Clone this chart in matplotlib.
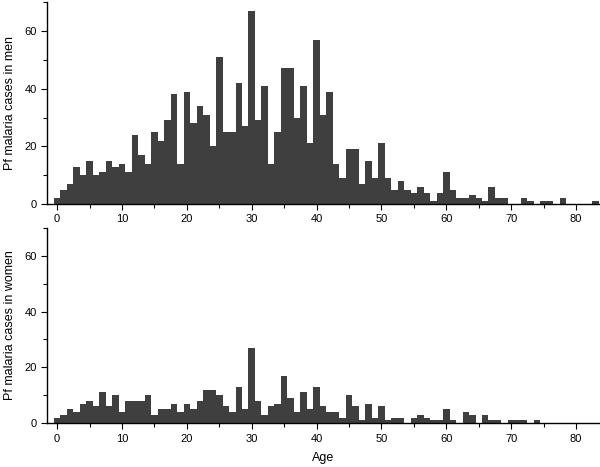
import matplotlib
matplotlib.use("Agg")
import matplotlib.pyplot as plt
from matplotlib.ticker import MultipleLocator
import numpy as np

plt.rcParams["font.family"] = ["Liberation Sans", "DejaVu Sans"]

ages = np.arange(0, 84)

men_cases = [
    2, 5, 7, 13, 10, 15, 10, 11, 15, 13,
    14, 11, 24, 17, 14, 25, 22, 29, 38, 14,
    39, 28, 34, 31, 20, 51, 25, 25, 42, 27,
    67, 29, 41, 14, 25, 47, 47, 30, 41, 21,
    57, 31, 39, 14, 9, 19, 19, 7, 15, 9,
    21, 9, 5, 8, 5, 4, 6, 4, 1, 4,
    11, 5, 2, 2, 3, 2, 1, 6, 2, 2,
    0, 0, 2, 1, 0, 1, 1, 0, 2, 0,
    0, 0, 0, 1,
]

women_cases = [
    2, 3, 5, 4, 7, 8, 6, 11, 6, 10,
    4, 8, 8, 8, 10, 3, 5, 5, 7, 4,
    7, 5, 8, 12, 12, 10, 6, 4, 13, 5,
    27, 8, 3, 6, 7, 17, 9, 4, 11, 5,
    13, 6, 4, 4, 2, 10, 6, 1, 7, 2,
    6, 1, 2, 2, 0, 2, 3, 2, 1, 1,
    5, 1, 0, 4, 3, 0, 3, 1, 1, 0,
    1, 1, 1, 0, 1, 0, 0, 0, 0, 0,
    0, 0, 0, 0,
]

panels = [
    (men_cases, "Pf malaria cases in men", [0.079, 0.563, 0.92, 0.4325]),
    (women_cases, "Pf malaria cases in women", [0.079, 0.094, 0.92, 0.418]),
]

BAR_COLOR = "#3f3f3f"

fig = plt.figure(figsize=(6.0, 4.67), dpi=100)

for values, label, rect in panels:
    ax = fig.add_axes(rect)
    ax.bar(ages, values, width=1.0, color=BAR_COLOR, edgecolor="none", align="center")
    ax.set_xlim(-1.5, 83.6)
    ax.set_ylim(0, 70)
    ax.xaxis.set_major_locator(MultipleLocator(10))
    ax.xaxis.set_minor_locator(MultipleLocator(5))
    ax.yaxis.set_major_locator(MultipleLocator(20))
    ax.yaxis.set_minor_locator(MultipleLocator(10))
    ax.tick_params(which="both", direction="out", labelsize=8, width=0.8)
    ax.tick_params(which="major", length=4)
    ax.tick_params(which="minor", length=3)
    for side in ("top", "right"):
        ax.spines[side].set_visible(False)
    ax.spines["left"].set_linewidth(1.0)
    ax.spines["bottom"].set_linewidth(1.0)
    ax.set_ylabel(label, fontsize=9, labelpad=6)

ax.set_xlabel("Age", fontsize=9, labelpad=6)

fig.savefig("out.png", dpi=100)
